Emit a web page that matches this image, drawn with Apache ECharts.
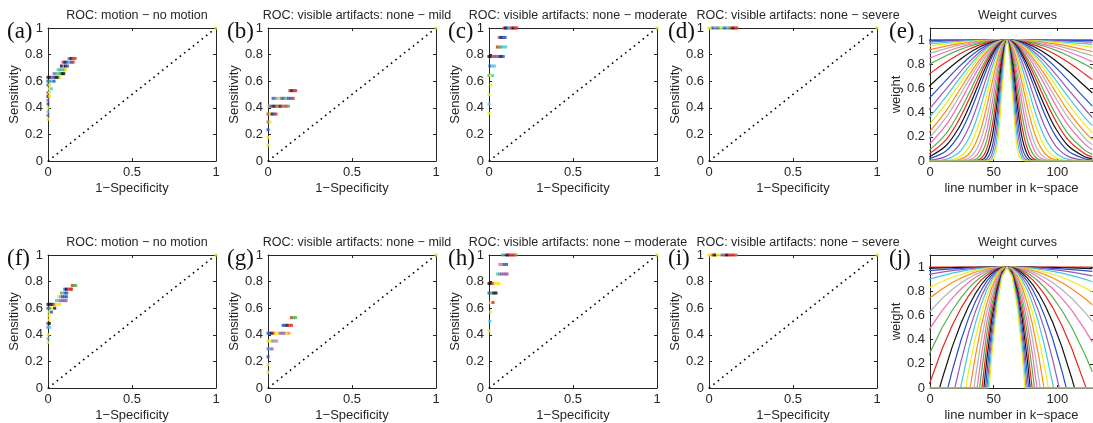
<!DOCTYPE html>
<html><head><meta charset="utf-8">
<script src="https://cdn.jsdelivr.net/npm/echarts@6/dist/echarts.min.js"></script>
<style>html,body{margin:0;padding:0;background:#fff}#c{width:1093px;height:423px}</style>
</head><body><div id="c"></div>
<script>
// palette: 0 red,1 black,2 blue,3 purple,4 cyan,5 yellow,6 orange,7 gray,8 pink,9 green
const palette = ['#e8251f','#111111','#2451c8','#9b59b6','#44c8e8','#eeee1a','#ff8a1a','#b4b4b4','#f06eb4','#55b04a'];

const panelLetters = ['(a)','(b)','(c)','(d)','(e)','(f)','(g)','(h)','(i)','(j)'];
const rocTitles = ['ROC: motion \u2212 no motion','ROC: visible artifacts: none \u2212 mild','ROC: visible artifacts: none \u2212 moderate','ROC: visible artifacts: none \u2212 severe'];
const weightTitle = 'Weight curves';
const rocXName = '1\u2212Specificity', rocYName = 'Sensitivity';
const wXName = 'line number in k\u2212space', wYName = 'weight';

// ROC points: [1-specificity, sensitivity, colour index]
const rocA = [[0,0.314,5],[0,0.343,3],[0,0.371,4],[0,0.4,5],[0,0.429,2],[0,0.457,3],[0,0.486,1],[0.008,0.486,5],
 [0,0.514,0],[0.008,0.514,5],[0.006,0.543,5],[0.02,0.543,4],[0,0.571,2],[0.01,0.571,5],
 [0,0.6,2],[0.012,0.6,9],[0.024,0.6,4],[0.036,0.6,2],
 [0,0.629,1],[0.012,0.629,1],[0.024,0.629,3],[0.036,0.629,2],[0.048,0.629,1],[0.06,0.629,1],[0.072,0.629,5],
 [0.036,0.657,3],[0.048,0.657,9],[0.06,0.657,4],[0.072,0.657,9],[0.084,0.657,1],[0.094,0.657,1],
 [0.06,0.686,4],[0.072,0.686,9],[0.084,0.686,4],[0.096,0.686,9],[0.106,0.686,5],
 [0.08,0.714,1],[0.092,0.714,3],[0.104,0.714,1],[0.116,0.714,2],
 [0.09,0.743,0],[0.102,0.743,1],[0.114,0.743,2],[0.126,0.743,4],[0.138,0.743,2],[0.15,0.743,0],
 [0.125,0.771,3],[0.137,0.771,1],[0.149,0.771,0],[0.161,0.771,0],[1,1,5]];
const rocB = [[0,0.118,5],[0,0.176,5],[0,0.235,2],[0,0.294,3],[0.012,0.294,5],
 [0,0.353,0],[0.012,0.353,5],[0.024,0.353,1],[0.036,0.353,2],[0.048,0.353,0],
 [0,0.412,5],[0.012,0.412,3],[0.024,0.412,2],[0.036,0.412,1],[0.048,0.412,0],[0.06,0.412,9],[0.072,0.412,1],[0.084,0.412,0],[0.096,0.412,9],[0.108,0.412,0],[0.122,0.412,9],
 [0.03,0.471,2],[0.042,0.471,3],[0.054,0.471,4],[0.066,0.471,5],[0.078,0.471,3],[0.09,0.471,2],[0.1,0.471,9],[0.11,0.471,4],[0.122,0.471,2],[0.136,0.471,2],[0.15,0.471,0],
 [0.13,0.529,0],[0.142,0.529,1],[0.155,0.529,0],[0.165,0.529,0],[1,1,5]];
const rocC = [[0,0.357,5],[0,0.429,4],[0,0.5,5],[0.012,0.571,5],[0,0.643,9],[0.01,0.643,5],[0.022,0.643,4],
 [0.005,0.714,2],[0.018,0.714,4],[0.032,0.714,4],
 [0,0.786,1],[0.012,0.786,1],[0.024,0.786,3],[0.036,0.786,0],[0.048,0.786,3],[0.06,0.786,2],[0.072,0.786,1],[0.085,0.786,2],
 [0.05,0.857,0],[0.062,0.857,9],[0.074,0.857,9],[0.086,0.857,4],[0.1,0.857,4],
 [0.06,0.929,3],[0.072,0.929,1],[0.084,0.929,2],[0.096,0.929,2],
 [0.09,1,0],[0.1,1,1],[0.11,1,2],[0.12,1,4],[0.132,1,0],[0.144,1,1],[0.156,1,0],[0.166,1,0],[1,1,5]];
const rocD = [[0,1,5],[0.012,1,5],[0.024,1,2],[0.036,1,4],[0.048,1,3],[0.06,1,9],[0.072,1,5],[0.084,1,4],[0.096,1,2],[0.108,1,4],[0.12,1,9],[0.132,1,0],[0.144,1,1],[0.156,1,0],[0.166,1,0],[1,1,5]];
const rocF = [[0,0.343,5],[0,0.371,4],[0,0.4,5],[0,0.457,3],[0.01,0.457,4],[0,0.486,2],[0.008,0.486,1],
 [0.005,0.514,5],[0.005,0.543,5],[0.005,0.571,5],[0.02,0.571,2],
 [0,0.6,2],[0.012,0.6,9],[0.026,0.6,5],[0.04,0.6,1],
 [0,0.629,1],[0.012,0.629,1],[0.024,0.629,1],[0.036,0.629,0],[0.048,0.629,5],[0.06,0.629,5],[0.07,0.629,5],
 [0.05,0.657,4],[0.062,0.657,4],[0.074,0.657,3],[0.086,0.657,3],[0.098,0.657,3],[0.108,0.657,3],
 [0.062,0.686,5],[0.074,0.686,8],[0.086,0.686,2],[0.098,0.686,2],[0.11,0.686,2],
 [0.08,0.714,9],[0.1,0.714,2],[0.112,0.714,2],
 [0.1,0.743,2],[0.11,0.743,1],[0.122,0.743,0],[0.134,0.743,0],[0.14,0.743,0],
 [0.145,0.771,0],[0.157,0.771,9],[0.165,0.771,9],[1,1,5]];
const rocG = [[0,0.118,5],[0,0.176,5],[0,0.235,2],[0,0.294,3],[0.012,0.294,4],[0.024,0.294,3],
 [0,0.353,5],[0.014,0.353,5],[0.028,0.353,9],[0.04,0.353,8],[0.052,0.353,8],
 [0,0.412,2],[0.01,0.412,2],[0.022,0.412,1],[0.034,0.412,0],[0.046,0.412,5],[0.058,0.412,5],[0.072,0.412,3],[0.086,0.412,3],[0.1,0.412,3],[0.112,0.412,5],[0.124,0.412,6],
 [0.09,0.471,2],[0.102,0.471,2],[0.114,0.471,1],[0.126,0.471,0],[0.14,0.471,0],
 [0.14,0.529,0],[0.152,0.529,9],[0.164,0.529,9],[1,1,5]];
const rocH = [[0,0.429,5],[0.005,0.5,4],[0.01,0.571,5],[0.01,0.643,5],[0.024,0.643,0],
 [0,0.714,2],[0.014,0.714,9],[0.028,0.714,1],[0.042,0.714,1],
 [0,0.786,1],[0.01,0.786,1],[0.022,0.786,0],[0.036,0.786,5],[0.05,0.786,5],[0.06,0.786,5],
 [0.05,0.857,4],[0.062,0.857,9],[0.074,0.857,3],[0.086,0.857,3],[0.098,0.857,3],[0.108,0.857,3],
 [0.064,0.929,8],[0.076,0.929,8],[0.09,0.929,2],[0.104,0.929,2],
 [0.08,1,9],[0.1,1,2],[0.112,1,1],[0.124,1,0],[0.136,1,0],[0.148,1,0],[0.162,1,9],[1,1,5]];
const rocI = [[0,1,5],[0.01,1,5],[0.024,1,0],[0.036,1,1],[0.05,1,5],[0.064,1,5],[0.078,1,3],[0.092,1,3],[0.106,1,1],[0.12,1,0],[0.134,1,0],[0.148,1,0],[0.162,1,9],[1,1,5]];
const rocSets = [rocA, rocB, rocC, rocD, rocF, rocG, rocH, rocI];
const diagonal = [[0,0],[1,1]];

// Weight curves (e): values at offsets from the k-space centre line
const weightCenter = 60.5;
const kMax = 128;
const eOffsets = [0,4,8,12,17,23,30,38,48,61,67];
const eCurves = [
 [1,1,1,1,1,1,1,1,1,1,1],
 [1,1,1,1,1,0.999,0.999,0.998,0.997,0.995,0.994],
 [1,1,1,1,0.999,0.998,0.996,0.994,0.991,0.985,0.982],
 [1,1,0.999,0.999,0.998,0.996,0.993,0.988,0.981,0.97,0.964],
 [1,1,0.999,0.998,0.996,0.993,0.988,0.98,0.969,0.95,0.94],
 [1,1,0.999,0.997,0.994,0.988,0.98,0.968,0.95,0.92,0.904],
 [1,0.999,0.998,0.995,0.991,0.984,0.972,0.956,0.93,0.89,0.869],
 [1,0.999,0.997,0.994,0.987,0.977,0.961,0.939,0.904,0.85,0.822],
 [1,0.999,0.996,0.991,0.983,0.969,0.947,0.917,0.871,0.8,0.764],
 [1,0.999,0.994,0.987,0.975,0.954,0.924,0.88,0.816,0.72,0.673],
 [1,0.998,0.992,0.982,0.963,0.934,0.891,0.831,0.744,0.62,0.562],
 [1,0.997,0.989,0.975,0.95,0.911,0.854,0.776,0.667,0.52,0.454],
 [1,0.996,0.986,0.968,0.936,0.887,0.815,0.721,0.593,0.43,0.361],
 [1,0.996,0.983,0.961,0.924,0.865,0.781,0.673,0.531,0.36,0.292],
 [1,0.995,0.98,0.954,0.911,0.843,0.747,0.627,0.474,0.3,0.234],
 [1,0.994,0.976,0.946,0.895,0.816,0.708,0.575,0.413,0.24,0.179],
 [1,0.993,0.972,0.938,0.879,0.79,0.669,0.525,0.358,0.19,0.135],
 [1,0.992,0.967,0.927,0.858,0.756,0.622,0.466,0.296,0.14,0.093],
 [1,0.99,0.959,0.911,0.829,0.71,0.558,0.393,0.225,0.09,0.055],
 [1,0.988,0.953,0.897,0.804,0.67,0.506,0.336,0.175,0.06,0.034],
 [1,0.986,0.944,0.878,0.771,0.621,0.444,0.272,0.126,0.035,0.018],
 [1,0.983,0.933,0.856,0.732,0.565,0.378,0.21,0.083,0.018,0.008],
 [1,0.977,0.913,0.815,0.663,0.471,0.278,0.128,0.038,0.005,0.002],
 [1,0.971,0.888,0.765,0.585,0.374,0.188,0.068,0.014,0.001,0],
 [1,0.962,0.856,0.705,0.496,0.277,0.113,0.03,0.004,0,0],
 [1,0.951,0.817,0.635,0.402,0.188,0.058,0.01,0,0,0],
 [1,0.936,0.769,0.553,0.305,0.114,0.025,0.003,0,0,0],
 [1,0.918,0.711,0.464,0.214,0.06,0.008,0,0,0,0],
 [1,0.895,0.641,0.368,0.134,0.025,0.002,0,0,0,0],
 [1,0.865,0.56,0.271,0.073,0.008,0,0,0,0,0],
 [1,0.828,0.47,0.182,0.033,0.002,0,0,0,0,0],
 [1,0.779,0.368,0.105,0.011,0,0,0,0,0,0],
 [1,0.721,0.271,0.053,0.003,0,0,0,0,0,0],
 [1,0.651,0.179,0.021,0,0,0,0,0,0,0],
 [1,0.566,0.102,0.006,0,0,0,0,0,0,0]];
const eColorStart = 1;

// Weight curves (j): values at offsets; curve falls to zero at jZeroAt offset
const jOffsets = [0,4,8,12,16,20,25,30,36,43,51,61,67];
const jCurves = [
 [1,1,1,1,1,1,1,1,1,1,1,1,1],
 [1,1,1,1,0.999,0.999,0.998,0.998,0.997,0.995,0.993,0.99,0.988],
 [1,1,0.999,0.999,0.998,0.997,0.995,0.993,0.99,0.985,0.979,0.97,0.964],
 [1,1,0.999,0.998,0.996,0.994,0.99,0.985,0.979,0.97,0.958,0.94,0.928],
 [1,1,0.998,0.996,0.993,0.989,0.983,0.976,0.965,0.95,0.93,0.9,0.879],
 [1,0.999,0.997,0.993,0.988,0.982,0.971,0.959,0.941,0.916,0.881,0.83,0.795],
 [1,0.999,0.996,0.99,0.982,0.972,0.957,0.938,0.91,0.872,0.819,0.742,0.688],
 [1,0.998,0.994,0.986,0.974,0.96,0.938,0.91,0.87,0.815,0.74,0.628,0.551],
 [1,0.998,0.991,0.98,0.965,0.945,0.913,0.875,0.821,0.744,0.64,0.485,0.379],
 [1,0.997,0.988,0.972,0.951,0.923,0.879,0.826,0.75,0.643,0.498,0.282,0.134],
 [1,0.996,0.983,0.963,0.933,0.896,0.837,0.766,0.663,0.519,0.323,0.032],
 [1,0.994,0.977,0.949,0.909,0.858,0.778,0.68,0.539,0.342,0.074],
 [1,0.993,0.97,0.933,0.882,0.815,0.711,0.584,0.401,0.145],
 [1,0.99,0.962,0.914,0.848,0.762,0.628,0.465,0.229],
 [1,0.988,0.952,0.892,0.808,0.7,0.531,0.324,0.027],
 [1,0.985,0.939,0.864,0.758,0.621,0.408,0.148],
 [1,0.981,0.924,0.829,0.696,0.524,0.257],
 [1,0.976,0.905,0.787,0.621,0.408,0.075],
 [1,0.971,0.884,0.739,0.536,0.276],
 [1,0.965,0.862,0.688,0.446,0.135],
 [1,0.959,0.835,0.629,0.34],
 [1,0.952,0.807,0.565,0.227],
 [1,0.944,0.776,0.496,0.104],
 [1,0.936,0.744,0.423],
 [1,0.927,0.708,0.343],
 [1,0.918,0.673,0.265]];
const jZeroAt = [null,null,null,null,null,null,null,null,null,null,62,53,46.5,41,36.5,32.5,29,26,23.5,21.5,19.7,18.2,16.9,15.8,14.8,14];
const jColorStart = 0;

const FONT = 'Liberation Sans, Arial, sans-serif';
const INK = '#262626';
const colLeft = [48, 268, 489, 709, 930];
const rocW = 168, wW = 165, plotH = 133;
const rowTop = [28, 255];

const grids = [], xAxes = [], yAxes = [], series = [], titles = [], graphics = [];

function axisCommon(gi, pos, showLabel) {
  return {
    gridIndex: gi, position: pos, type: 'value',
    axisLine: { show: true, onZero: false, lineStyle: { color: INK, width: 1 } },
    axisTick: { show: true, inside: true, length: 3, lineStyle: { color: INK, width: 1 } },
    axisLabel: { show: showLabel, color: INK, fontSize: 13, fontFamily: FONT, margin: 5 },
    splitLine: { show: false }
  };
}

let gi = 0;
for (let r = 0; r < 2; r++) {
  for (let c = 0; c < 5; c++) {
    const isW = c === 4;
    const left = colLeft[c], top = rowTop[r];
    const w = isW ? wW : rocW;
    grids.push({ left: left, top: top, width: w, height: plotH, containLabel: false, show: false });
    const xr = isW ? { min: 0, max: kMax, interval: 50 } : { min: 0, max: 1, interval: 0.5 };
    const yr = isW ? { min: 0, max: 1.1, interval: 0.2 } : { min: 0, max: 1, interval: 0.2 };
    const xb = Object.assign(axisCommon(gi, 'bottom', true), xr, {
      name: isW ? wXName : rocXName, nameLocation: 'middle', nameGap: 21,
      nameTextStyle: { color: INK, fontSize: 13, fontFamily: FONT }
    });
    xb.axisLabel.showMaxLabel = !isW;
    const xt = Object.assign(axisCommon(gi, 'top', false), xr);
    const yl = Object.assign(axisCommon(gi, 'left', true), yr, {
      name: isW ? wYName : rocYName, nameLocation: 'middle', nameGap: 25,
      nameTextStyle: { color: INK, fontSize: 13, fontFamily: FONT }
    });
    yl.axisLabel.showMaxLabel = !isW;
    const yrt = Object.assign(axisCommon(gi, 'right', false), yr);
    const xi = xAxes.length, yi = yAxes.length;
    xAxes.push(xb, xt); yAxes.push(yl, yrt);

    const cx = left + w / 2;
    titles.push({ text: isW ? weightTitle : rocTitles[c], left: cx, top: top - 24, textAlign: 'center',
      textStyle: { color: INK, fontSize: 12.5, fontWeight: 'normal', fontFamily: FONT } });
    graphics.push({ type: 'text', left: left - 41, top: top - 8,
      style: { text: panelLetters[gi], fill: '#111', font: '23px "Liberation Serif", "Times New Roman", serif' } });

    if (!isW) {
      const pts = rocSets[r * 4 + c];
      series.push({ type: 'line', xAxisIndex: xi, yAxisIndex: yi, data: diagonal, symbol: 'none', silent: true,
        lineStyle: { color: '#000', width: 1.6, type: [1.6, 4] }, z: 2 });
      series.push({ type: 'scatter', xAxisIndex: xi, yAxisIndex: yi, symbol: 'rect', symbolSize: 3,
        data: pts.map(p => ({ value: [p[0], p[1]], itemStyle: { color: palette[p[2]] } })), z: 3 });
    } else {
      if (r === 0) {
        eCurves.forEach((row, k) => {
          const data = [];
          for (let i = eOffsets.length - 1; i >= 0; i--) data.push([weightCenter - eOffsets[i], row[i]]);
          for (let i = 1; i < eOffsets.length; i++) data.push([weightCenter + eOffsets[i], row[i]]);
          series.push({ type: 'line', xAxisIndex: xi, yAxisIndex: yi, data: data, symbol: 'none', smooth: 0.35,
            clip: true, lineStyle: { color: palette[(k + eColorStart) % 10], width: 1.2 } });
        });
      } else {
        jCurves.forEach((row, k) => {
          const data = [];
          const z = jZeroAt[k];
          if (z !== null && z < weightCenter) { data.push([0, 0]); data.push([weightCenter - z, 0]); }
          for (let i = row.length - 1; i >= 0; i--) data.push([weightCenter - jOffsets[i], row[i]]);
          for (let i = 1; i < row.length; i++) data.push([weightCenter + jOffsets[i], row[i]]);
          if (z !== null) { data.push([weightCenter + z, 0]); data.push([kMax, 0]); }
          series.push({ type: 'line', xAxisIndex: xi, yAxisIndex: yi, data: data, symbol: 'none', smooth: false,
            clip: true, lineStyle: { color: palette[(k + jColorStart) % 10], width: 1.2 } });
        });
      }
    }
    gi++;
  }
}

const chart = echarts.init(document.getElementById('c'), null, { renderer: 'canvas' });
chart.setOption({
  animation: false,
  backgroundColor: '#fff',
  title: titles,
  grid: grids,
  xAxis: xAxes,
  yAxis: yAxes,
  series: series,
  graphic: graphics
});
</script>
</body></html>
